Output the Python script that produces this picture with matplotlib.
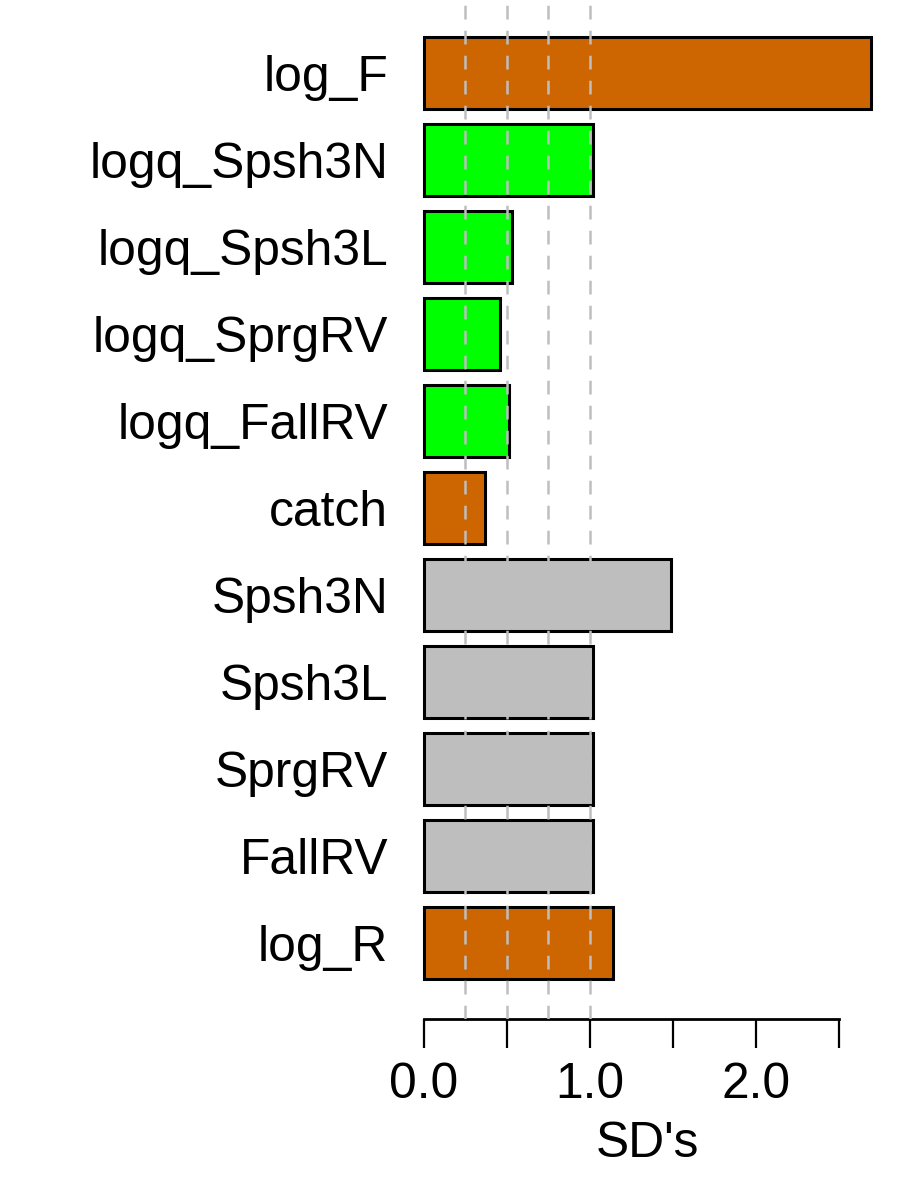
import numpy as np
import matplotlib
matplotlib.use("Agg")
import matplotlib.pyplot as plt

plt.rcParams['font.family'] = ['Liberation Sans', 'DejaVu Sans']

# parameters, top to bottom
names = ['log_F', 'logq_Spsh3N', 'logq_Spsh3L', 'logq_SprgRV', 'logq_FallRV',
         'catch', 'Spsh3N', 'Spsh3L', 'SprgRV', 'FallRV', 'log_R']
sds = [2.69, 1.02, 0.53, 0.46, 0.51, 0.37, 1.49, 1.02, 1.02, 1.02, 1.14]
colors = ['#CD6600', '#00FF00', '#00FF00', '#00FF00', '#00FF00',
          '#CD6600', '#BEBEBE', '#BEBEBE', '#BEBEBE', '#BEBEBE', '#CD6600']
ref_lines = [0.25, 0.5, 0.75, 1.0]
xticks = [0, 0.5, 1.0, 1.5, 2.0, 2.5]
xticklabels = ['0.0', '', '1.0', '', '2.0', '']

fs = 35.8

fig = plt.figure(figsize=(9, 12), dpi=100)
ax = fig.add_axes([0.4512, 0.1508, 0.5358, 0.8492])

y = np.arange(len(names))
ax.barh(y, sds, height=0.828, color=colors, edgecolor='black', linewidth=2.2, zorder=2)
for v in ref_lines:
    ax.axvline(v, color='#BEBEBE', linestyle=(0, (5.5, 4.5)), linewidth=1.8, zorder=3)

ax.set_xlim(-0.1076, 2.797)
ax.set_ylim(10.874, -0.839)

for s in ['top', 'right', 'left']:
    ax.spines[s].set_visible(False)
ax.spines['bottom'].set_bounds(0, 2.5)
ax.spines['bottom'].set_linewidth(2)

ax.set_xticks(xticks)
ax.set_xticklabels(xticklabels, fontsize=fs)
ax.tick_params(axis='x', length=21, width=1.6, pad=10)
ax.set_yticks(y)
ax.set_yticklabels(names, fontsize=fs)
ax.tick_params(axis='y', length=0, pad=13)
ax.set_xlabel("SD's", fontsize=fs, labelpad=9)

fig.savefig('out.png', dpi=100, facecolor='white')
